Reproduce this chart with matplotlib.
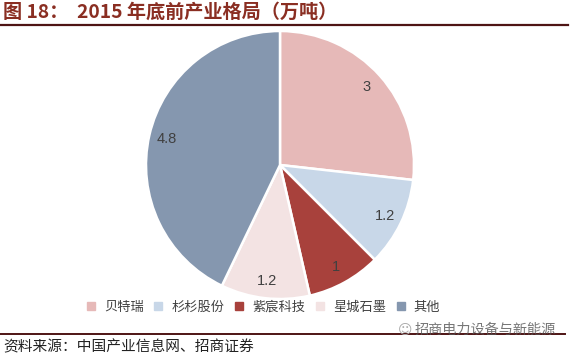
import matplotlib
matplotlib.use("Agg")
import matplotlib.pyplot as plt
from matplotlib.lines import Line2D

plt.rcParams['font.family'] = ['Noto Sans CJK SC', 'DejaVu Sans']

# data (万吨)
companies = ['贝特瑞', '杉杉股份', '紫宸科技', '星城石墨', '其他']
capacity = [3, 1.2, 1, 1.2, 4.8]
colors = ['#E6B9B8', '#C8D7E8', '#A8413C', '#F3E3E3', '#8597AF']

title = '图 18：  2015 年底前产业格局（万吨）'
source = '资料来源：中国产业信息网、招商证券'
watermark = '招商电力设备与新能源'

total = sum(capacity)

fig = plt.figure(figsize=(5.72, 3.56), dpi=100)
W, H = 572, 356

# pie area, center ~ (280, 165), radius ~ 133 px
r = 134
cx, cy = 280, 165
ax = fig.add_axes([(cx - r) / W, 1 - (cy + r) / H, 2 * r / W, 2 * r / H])
wedges, texts, autotexts = ax.pie(
    capacity, colors=colors, startangle=90, counterclock=False,
    autopct=lambda p: '{:g}'.format(round(p * total / 100, 1)),
    pctdistance=0.87, radius=1.0,
    wedgeprops=dict(edgecolor='white', linewidth=1.8),
    textprops=dict(color='#404040', fontsize=10.5, family=['Liberation Sans', 'DejaVu Sans']))
ax.set_xlim(-1.0, 1.0)
ax.set_ylim(-1.0, 1.0)
ax.set_aspect('equal')
ax.axis('off')

# legend below the pie
handles = [Line2D([], [], marker='s', linestyle='none', markersize=6,
                  markerfacecolor=c, markeredgecolor=c) for c in colors]
fig.legend(handles, companies, loc='center', bbox_to_anchor=(263 / W, 1 - 307 / H),
           ncol=5, frameon=False, fontsize=9.5, handlelength=0.8, handletextpad=0.6,
           columnspacing=0.7, labelcolor='#404040')

# title and rules
fig.text(3 / W, 1 - 12 / H, title, fontsize=13.8, fontweight='bold', color='#8A2E22',
         va='center', ha='left')
fig.add_artist(Line2D([0, 568 / W], [1 - 25 / H, 1 - 25 / H], color='#4E1414', linewidth=1.6))
fig.add_artist(Line2D([0, 565 / W], [1 - 334 / H, 1 - 334 / H], color='#4E1414', linewidth=1.4))

fig.text(3 / W, 1 - 347 / H, source, fontsize=10.6, color='#222222', va='center', ha='left')

# watermark
fig.text(398 / W, 1 - 330 / H, '☺', fontsize=10, color='#AAAAAA', va='center', ha='left',
         family=['DejaVu Sans'])
fig.text(415 / W, 1 - 330 / H, watermark, fontsize=10.2, color='#555555', alpha=0.8,
         va='center', ha='left')

fig.savefig('out.png', dpi=100)
